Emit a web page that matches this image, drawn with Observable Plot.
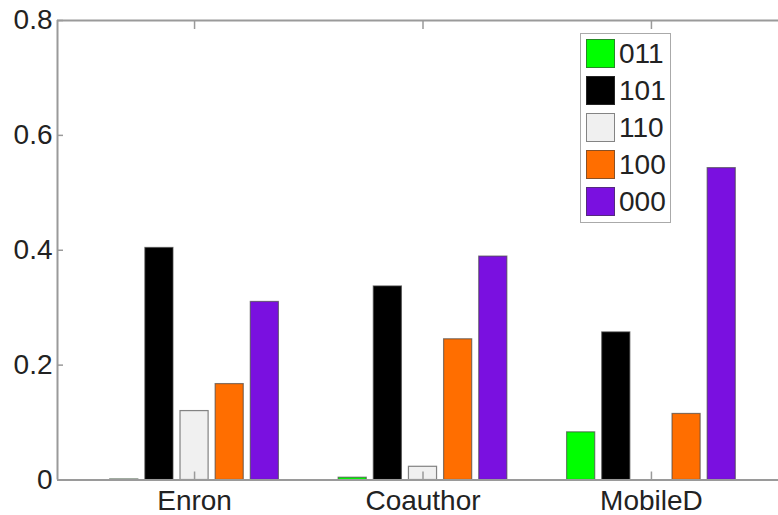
<!DOCTYPE html>
<html>
<head>
<meta charset="utf-8">
<script src="https://cdn.jsdelivr.net/npm/d3@7"></script>
<script src="https://cdn.jsdelivr.net/npm/@observablehq/plot@0.6"></script>
<style>
  html, body { margin: 0; padding: 0; background: #fff; }
  #wrap { position: relative; width: 778px; height: 515px; overflow: hidden; font-family: "Liberation Sans", Arial, sans-serif; }
  #legend { position: absolute; left: 580px; top: 33px; width: 89px; height: 188px; border: 1.5px solid #aaa; background: #fff; }
  .item { position: absolute; left: 5px; height: 29px; display: flex; align-items: center; }
  .sw { width: 27px; height: 27px; border: 1px solid rgba(60,60,60,0.6); }
  .lb { margin-left: 4px; font-size: 28px; color: #222; line-height: 29px; }
</style>
</head>
<body>
<div id="wrap"><div id="chart"></div><div id="legend"></div></div>
<script>
const categories = ["Enron", "Coauthor", "MobileD"];
const series = ["011", "101", "110", "100", "000"];
const colors = ["#00ff00", "#000000", "#f0f0f0", "#ff6e00", "#7a10e0"];
const v011 = [0.001, 0.004, 0.083];
const v101 = [0.404, 0.337, 0.257];
const v110 = [0.120, 0.023, 0];
const v100 = [0.167, 0.245, 0.115];
const v000 = [0.310, 0.389, 0.543];
const yTicks = [0, 0.2, 0.4, 0.6, 0.8];
const yTickLabels = ["0", "0.2", "0.4", "0.6", "0.8"];

const values = [v011, v101, v110, v100, v000];
const groupWidth = Math.min(0.8, series.length / (series.length + 1.5));
const slot = groupWidth / series.length;
const half = slot * 0.4;

const rows = [];
categories.forEach((c, i) => {
  series.forEach((s, j) => {
    const v = values[j][i];
    if (v > 0) {
      const center = (i + 1) + (j - (series.length - 1) / 2) * slot;
      rows.push({category: c, series: s, value: v, x1: center - half, x2: center + half});
    }
  });
});

const catTicks = categories.map((c, i) => i + 1);
const axisGray = "#9a9a9a";

const chart = Plot.plot({
  width: 778,
  height: 515,
  marginTop: 20,
  marginBottom: 35.5,
  marginLeft: 57,
  marginRight: -10,
  style: {fontFamily: "'Liberation Sans', Arial, sans-serif", color: "#222", background: "#fff", overflow: "visible"},
  x: {type: "linear", domain: [0.4, 3.6], axis: null, label: null},
  y: {domain: [0, 0.8], axis: null, label: null},
  color: {domain: series, range: colors},
  marks: [
    Plot.rectY(rows, {x1: "x1", x2: "x2", y1: 0, y2: "value", fill: "series", stroke: "#444", strokeOpacity: 0.65, strokeWidth: 1.2}),
    Plot.ruleY([0], {stroke: axisGray, strokeWidth: 2}),
    Plot.ruleY([0.8], {stroke: axisGray, strokeWidth: 2}),
    Plot.ruleX([0.4], {stroke: axisGray, strokeWidth: 2}),
    Plot.axisY({ticks: yTicks, anchor: "left", label: null, tickSize: -6, tickFormat: () => "", stroke: axisGray, strokeWidth: 1.5}),
    Plot.axisY({ticks: yTicks, anchor: "left", label: null, tickSize: 0, tickPadding: 5, fontSize: 28, tickFormat: d => yTickLabels[yTicks.indexOf(d)]}),
    Plot.axisX({ticks: catTicks, anchor: "top", label: null, tickSize: -8, tickFormat: () => "", stroke: axisGray, strokeWidth: 1.5}),
    Plot.axisX({ticks: catTicks, anchor: "bottom", label: null, tickSize: -8, tickFormat: () => "", stroke: axisGray, strokeWidth: 1.5}),
    Plot.axisX({ticks: catTicks, anchor: "bottom", label: null, tickSize: 0, tickPadding: 10, fontSize: 28, tickFormat: d => categories[d - 1]})
  ]
});
document.getElementById("chart").appendChild(chart);

const legend = document.getElementById("legend");
series.forEach((s, j) => {
  const item = document.createElement("div");
  item.className = "item";
  item.style.top = (5 + j * 37.1) + "px";
  const sw = document.createElement("div");
  sw.className = "sw";
  sw.style.background = colors[j];
  const lb = document.createElement("span");
  lb.className = "lb";
  lb.textContent = s;
  item.appendChild(sw);
  item.appendChild(lb);
  legend.appendChild(item);
});
</script>
</body>
</html>
